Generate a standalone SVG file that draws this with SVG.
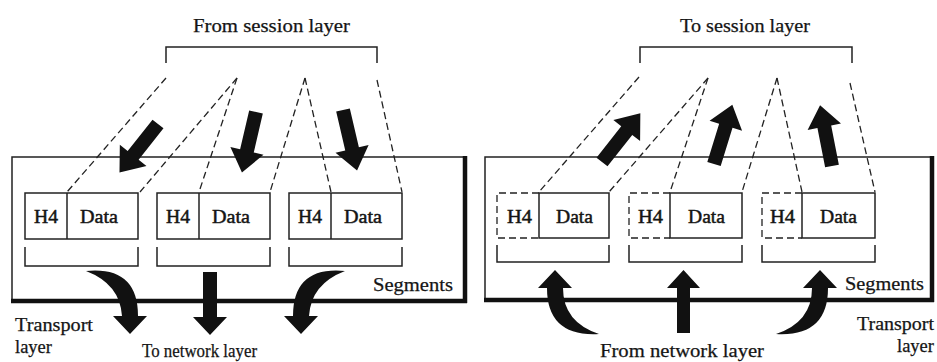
<svg xmlns="http://www.w3.org/2000/svg" xmlns:xlink="http://www.w3.org/1999/xlink" width="937" height="362" viewBox="0 0 937 362">
<style>
  text { font-family: "Liberation Serif", "Times New Roman", serif; fill: #151515; stroke: #151515; stroke-width: 0.25; }
  .lbl { font-size: 19px; }
  .cell { font-size: 18px; stroke-width: 0.45; }
  .thin { fill: none; stroke: #222; stroke-width: 1.5; }
  .thick { fill: none; stroke: #111; stroke-width: 4.5; }
  .dash { fill: none; stroke: #222; stroke-width: 1.3; stroke-dasharray: 7 4; }
  .arr { fill: #111; stroke: none; }
</style>
<defs>
  <polygon id="sa" class="arr" points="0,-7 40,-7 40,-17 62,0 40,17 40,7 0,7"/>
</defs>
<rect width="937" height="362" fill="#fff"/>

<!-- Left panel: sender -->
<g id="left-frame">
  <polyline class="thin" points="12,300 12,157 463,157"/>
  <line class="thick" x1="465" y1="156" x2="465" y2="303"/>
  <line class="thick" x1="11" y1="301" x2="467" y2="301"/>
</g>
<g id="left-session">
  <text class="lbl" x="193" y="32" textLength="157" lengthAdjust="spacingAndGlyphs">From session layer</text>
  <polyline class="thin" points="166,63 166,47 377,47 377,63"/>
</g>
<g id="left-seg1">
  <rect class="thin" x="25" y="193" width="113" height="46"/>
  <line class="thin" x1="67" y1="193" x2="67" y2="239"/>
  <text class="cell" x="34" y="223" textLength="24" lengthAdjust="spacingAndGlyphs">H4</text>
  <text class="cell" x="80" y="223" textLength="38" lengthAdjust="spacingAndGlyphs">Data</text>
  <polyline class="thin" points="25,247 25,266 138,266 138,247"/>
</g>
<g id="left-seg2">
  <rect class="thin" x="157" y="193" width="113" height="46"/>
  <line class="thin" x1="199" y1="193" x2="199" y2="239"/>
  <text class="cell" x="166" y="223" textLength="24" lengthAdjust="spacingAndGlyphs">H4</text>
  <text class="cell" x="212" y="223" textLength="38" lengthAdjust="spacingAndGlyphs">Data</text>
  <polyline class="thin" points="157,247 157,266 270,266 270,247"/>
</g>
<g id="left-seg3">
  <rect class="thin" x="289" y="193" width="113" height="46"/>
  <line class="thin" x1="331" y1="193" x2="331" y2="239"/>
  <text class="cell" x="298" y="223" textLength="24" lengthAdjust="spacingAndGlyphs">H4</text>
  <text class="cell" x="344" y="223" textLength="38" lengthAdjust="spacingAndGlyphs">Data</text>
  <polyline class="thin" points="289,247 289,266 402,266 402,247"/>
</g>
<g id="left-labels">
  <text class="lbl" x="373" y="291" textLength="80" lengthAdjust="spacingAndGlyphs">Segments</text>
  <text class="lbl" x="15" y="331" textLength="78" lengthAdjust="spacingAndGlyphs">Transport</text>
  <text class="lbl" x="15" y="353" textLength="37" lengthAdjust="spacingAndGlyphs">layer</text>
  <text class="lbl" x="142" y="357" textLength="115" lengthAdjust="spacingAndGlyphs">To network layer</text>
</g>

<!-- Right panel: receiver -->
<g id="right-frame">
  <polyline class="thin" points="485,300 485,157 932,157"/>
  <line class="thick" x1="932" y1="156" x2="932" y2="302"/>
  <line class="thick" x1="484" y1="300" x2="934" y2="300"/>
</g>
<g id="right-session">
  <text class="lbl" x="680" y="32" textLength="130" lengthAdjust="spacingAndGlyphs">To session layer</text>
  <polyline class="thin" points="640,63 640,47 852,47 852,63"/>
</g>
<g id="right-seg1">
  <polyline class="dash" points="539,193 497,193 497,238 539,238"/>
  <rect class="thin" x="539" y="193" width="70" height="45"/>
  <text class="cell" x="507" y="223" textLength="25" lengthAdjust="spacingAndGlyphs">H4</text>
  <text class="cell" x="556" y="223" textLength="37" lengthAdjust="spacingAndGlyphs">Data</text>
  <polyline class="thin" points="497,245 497,262 609,262 609,245"/>
</g>
<g id="right-seg2">
  <polyline class="dash" points="670,193 629,193 629,238 670,238"/>
  <rect class="thin" x="670" y="193" width="72" height="45"/>
  <text class="cell" x="638" y="223" textLength="25" lengthAdjust="spacingAndGlyphs">H4</text>
  <text class="cell" x="688" y="223" textLength="37" lengthAdjust="spacingAndGlyphs">Data</text>
  <polyline class="thin" points="629,245 629,262 742,262 742,245"/>
</g>
<g id="right-seg3">
  <polyline class="dash" points="802,193 762,193 762,238 802,238"/>
  <rect class="thin" x="802" y="193" width="73" height="45"/>
  <text class="cell" x="770" y="223" textLength="25" lengthAdjust="spacingAndGlyphs">H4</text>
  <text class="cell" x="820" y="223" textLength="37" lengthAdjust="spacingAndGlyphs">Data</text>
  <polyline class="thin" points="762,245 762,262 875,262 875,245"/>
</g>
<g id="right-labels">
  <text class="lbl" x="845" y="290" textLength="79" lengthAdjust="spacingAndGlyphs">Segments</text>
  <text class="lbl" x="934" y="330" text-anchor="end" textLength="77" lengthAdjust="spacingAndGlyphs">Transport</text>
  <text class="lbl" x="934" y="352" text-anchor="end" textLength="37" lengthAdjust="spacingAndGlyphs">layer</text>
  <text class="lbl" x="600" y="357" textLength="164" lengthAdjust="spacingAndGlyphs">From network layer</text>
</g>

<g id="connectors">
  <!-- left dashed mapping lines -->
  <line class="dash" x1="166" y1="78" x2="67" y2="192"/>
  <line class="dash" x1="237" y1="78" x2="140" y2="192"/>
  <line class="dash" x1="237" y1="78" x2="199" y2="192"/>
  <line class="dash" x1="305" y1="78" x2="270" y2="192"/>
  <line class="dash" x1="305" y1="78" x2="331" y2="192"/>
  <line class="dash" x1="377" y1="80" x2="402" y2="192"/>
  <!-- right dashed mapping lines -->
  <line class="dash" x1="639" y1="77" x2="539" y2="192"/>
  <line class="dash" x1="708" y1="78" x2="609" y2="192"/>
  <line class="dash" x1="708" y1="78" x2="670" y2="192"/>
  <line class="dash" x1="777" y1="78" x2="742" y2="192"/>
  <line class="dash" x1="777" y1="78" x2="802" y2="192"/>
  <line class="dash" x1="850" y1="83" x2="875" y2="192"/>

  <!-- left top arrows (down into transport layer) -->
  <use xlink:href="#sa" transform="translate(158,124) rotate(128.4)"/>
  <use xlink:href="#sa" transform="translate(256,112) rotate(103.1)"/>
  <use xlink:href="#sa" transform="translate(343,110) rotate(76.9)"/>
  <!-- right top arrows (up to session layer) -->
  <use xlink:href="#sa" transform="translate(602,162) rotate(-51.8)"/>
  <use xlink:href="#sa" transform="translate(714,164) rotate(-72.8)"/>
  <use xlink:href="#sa" transform="translate(832,166) rotate(-101.1)"/>

  <!-- left bottom arrows (to network layer) -->
  <path class="arr" d="M 86 271 Q 138 266 138 316 L 147 316 L 130 334 L 113 316 L 122 316 Q 120 284 86 271 Z"/>
  <polygon class="arr" points="203,272 217,272 217,317 227,317 210,335 193,317 203,317"/>
  <path class="arr" d="M 345 271 Q 293 266 293 316 L 284 316 L 301 334 L 318 316 L 309 316 Q 311 284 345 271 Z"/>
  <!-- right bottom arrows (from network layer) -->
  <path class="arr" d="M 599 334 Q 547 337 547 288 L 538 288 L 555 270 L 572 288 L 563 288 Q 563 322 599 334 Z"/>
  <polygon class="arr" points="677,333 690,333 690,288 700,288 683.5,270 667,288 677,288"/>
  <path class="arr" d="M 776 334 Q 828 337 828 288 L 837 288 L 820 270 L 803 288 L 812 288 Q 812 322 776 334 Z"/>
</g>
</svg>
